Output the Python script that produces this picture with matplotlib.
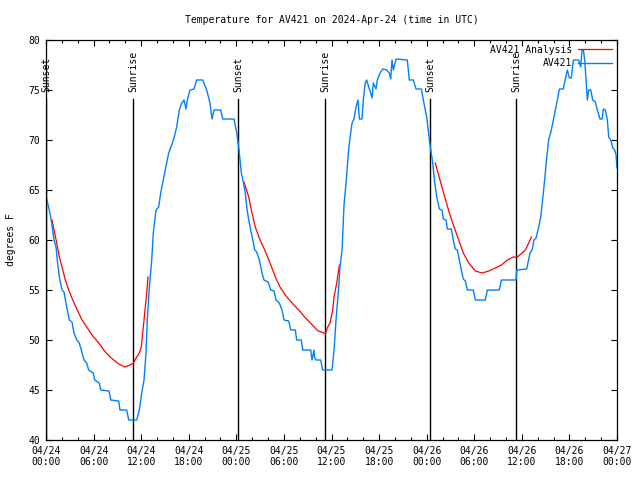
import numpy as np
import matplotlib
matplotlib.use('Agg')
from matplotlib import rcParams
rcParams['font.family'] = 'DejaVu Sans Mono'
rcParams['font.size'] = 7
import matplotlib.pyplot as plt
from matplotlib.ticker import MultipleLocator

# hours since 2024-04-24 00:00 UTC, observed temperature (F)
obs_hours = [0.0, 0.50, 0.72, 1.01, 1.26, 1.42, 1.68, 2.02, 2.27, 2.61, 2.94, 3.28, 3.53, 3.87,
             4.20, 4.45, 4.79, 5.13, 5.38, 5.96, 6.14, 6.72, 6.90, 7.94, 8.16, 9.17, 9.33, 10.18,
             10.43, 11.44, 11.77, 12.07, 12.36, 12.61, 12.77, 13.03, 13.33, 13.53, 13.87, 14.21,
             14.46, 14.79, 15.13, 15.47, 15.85, 16.14, 16.48, 16.81, 17.11, 17.40, 17.65, 17.82,
             18.16, 18.66, 19.00, 19.76, 20.26, 20.68, 20.93, 21.19, 22.03, 22.28, 23.71, 24.05,
             24.30, 24.46, 24.63, 24.88, 25.13, 25.31, 25.56, 25.81, 26.07, 26.32, 26.57, 26.90,
             27.24, 27.49, 28.00, 28.34, 28.75, 29.00, 29.42, 29.76, 30.01, 30.61, 30.86, 31.44,
             31.61, 32.19, 32.37, 33.38, 33.54, 33.80, 33.88, 34.05, 34.64, 34.80, 34.90, 36.07,
             36.32, 36.57, 36.91, 37.07, 37.33, 37.58, 37.92, 38.08, 38.25, 38.59, 38.84, 39.09,
             39.34, 39.51, 39.85, 40.01, 40.26, 40.44, 40.69, 40.95, 41.11, 41.27, 41.61, 41.78,
             42.12, 42.46, 42.96, 43.29, 43.47, 43.63, 43.80, 44.14, 45.56, 45.81, 46.32, 46.66,
             47.33, 47.58, 48.01, 48.34, 48.76, 49.02, 49.27, 49.60, 49.94, 50.10, 50.44, 50.61,
             51.11, 51.36, 51.61, 51.87, 52.12, 52.37, 52.62, 52.88, 53.13, 53.88, 54.14, 55.40,
             55.65, 57.16, 57.42, 59.27, 59.36, 60.62, 61.03, 61.29, 61.54, 61.79, 62.13, 62.38,
             62.71, 62.96, 63.14, 63.39, 63.72, 63.97, 64.22, 64.48, 64.73, 65.23, 65.48, 65.74,
             65.99, 66.24, 66.49, 67.17, 67.42, 67.59, 67.76, 67.93, 68.10, 68.26, 68.44, 68.69,
             68.94, 69.27, 69.52, 69.86, 70.11, 70.28, 70.53, 70.78, 70.96, 71.21, 71.46, 71.72,
             71.88, 72.0]
obs_temp = [64.4, 62.7, 61.7, 60.0, 59.3, 58.0, 56.3, 55.0, 54.8, 53.3, 52.0, 51.8, 50.7, 50.0,
            49.7, 49.0, 48.0, 47.7, 47.0, 46.7, 46.0, 45.7, 45.0, 44.9, 44.0, 43.9, 43.0, 43.0,
            42.0, 42.0, 43.0, 44.7, 46.0, 48.7, 52.0, 55.3, 58.0, 60.7, 63.0, 63.3,
            64.7, 66.0, 67.3, 68.7, 69.5, 70.2, 71.3, 73.0, 73.7, 74.0, 73.1, 74.0,
            75.0, 75.1, 76.0, 76.0, 75.0, 73.7, 72.1, 73.0, 73.0, 72.1, 72.1, 70.7,
            69.3, 68.0, 66.7, 65.8, 64.7, 63.3, 62.0, 61.0, 60.0, 59.0, 58.8, 58.0,
            56.7, 56.0, 55.8, 55.0, 54.9, 54.0, 53.7, 53.0, 52.0, 51.9, 51.0, 51.0,
            50.0, 50.0, 49.0, 49.0, 48.0, 49.0, 48.2, 48.0, 48.0, 47.3, 47.0, 47.0,
            49.0, 52.0, 55.3, 57.3, 59.0, 63.5, 66.5, 68.3, 69.7, 71.7, 72.1, 73.3,
            74.0, 72.1, 72.1, 74.0, 75.7, 76.0, 75.3, 74.7, 74.2, 75.7, 75.1, 76.0,
            76.7, 77.1, 77.0, 76.7, 76.1, 78.0, 77.0, 78.1, 78.0, 76.0, 76.0, 75.1,
            75.1, 74.0, 72.3, 70.0, 67.7, 65.7, 64.3, 63.1, 63.0, 62.1, 62.0, 61.1,
            61.1, 60.0, 59.1, 59.0, 58.0, 57.0, 56.1, 55.9, 55.0, 55.0, 54.0, 54.0,
            55.0, 55.0, 56.0, 56.0, 57.0, 57.1, 58.7, 59.0, 60.0, 60.2, 61.3, 62.3,
            64.7, 66.7, 68.3, 70.0, 71.0, 72.0, 73.0, 74.0, 75.1, 75.1, 76.1, 77.0,
            76.2, 76.2, 78.0, 78.0, 77.3, 79.0, 79.0, 78.0, 76.0, 74.0, 75.0, 75.0,
            74.0, 73.8, 73.0, 72.1, 72.1, 73.1, 73.0, 72.0, 70.3, 70.0, 69.2, 69.0,
            68.5, 67.2]

# analysis runs (one per night)
ana1_hours = [0.76, 1.01, 1.35, 1.68, 2.02, 2.43, 2.86, 3.37, 3.95, 4.54, 5.13, 5.80, 6.65,
              7.48, 8.23, 9.17, 9.92, 10.59, 11.01, 11.44, 11.77, 12.02, 12.19, 12.36, 12.52,
              12.70, 12.86]
ana1_temp = [62.0, 61.0, 59.7, 58.3, 57.3, 56.0, 55.0, 54.0, 53.0, 52.0, 51.3, 50.5, 49.7,
             48.8, 48.2, 47.6, 47.3, 47.5, 47.7, 48.3, 48.7, 49.3, 50.7, 52.0, 53.3, 54.7, 56.3]
ana2_hours = [24.97, 25.56, 25.89, 26.39, 26.99, 27.58, 28.25, 28.92, 29.51, 30.18, 31.02,
              31.87, 32.62, 33.46, 34.30, 35.06, 35.22, 35.47, 35.81, 36.15, 36.32, 36.66, 36.99]
ana2_temp = [65.8, 64.3, 63.0, 61.3, 60.0, 59.0, 57.7, 56.3, 55.3, 54.5, 53.7, 53.0, 52.3,
             51.6, 50.9, 50.7, 50.6, 51.2, 51.7, 53.0, 54.3, 55.7, 57.5]
ana3_hours = [49.09, 49.68, 50.28, 50.86, 51.45, 52.04, 52.62, 53.30, 54.14, 54.98, 55.83,
              56.66, 57.42, 58.17, 58.93, 59.43, 60.03, 60.44, 60.87, 61.20]
ana3_temp = [67.7, 66.0, 64.3, 62.7, 61.3, 60.0, 58.7, 57.7, 56.9, 56.7, 56.9, 57.2, 57.5,
             58.0, 58.3, 58.3, 58.7, 59.0, 59.7, 60.3]

sun_hours = [0.05, 10.97, 24.21, 35.18, 48.42, 59.27]
sun_labels = ['Sunset', 'Sunrise', 'Sunset', 'Sunrise', 'Sunset', 'Sunrise']

tick_hours = list(range(0, 73, 6))
tick_labels = ['04/24\n00:00', '04/24\n06:00', '04/24\n12:00', '04/24\n18:00',
               '04/25\n00:00', '04/25\n06:00', '04/25\n12:00', '04/25\n18:00',
               '04/26\n00:00', '04/26\n06:00', '04/26\n12:00', '04/26\n18:00',
               '04/27\n00:00']

fig = plt.figure(figsize=(6.4, 4.8), dpi=100)
ax = fig.add_axes([46/640, 40/480, 571/640, 400/480])

for h, lab in zip(sun_hours, sun_labels):
    ax.plot([h, h], [40, 74.1], color='black', lw=1.0)
    ax.text(h, 74.8, lab, rotation=90, ha='center', va='bottom', fontsize=7)

ana_style = dict(color='#ff0000', lw=0.9)
ax.plot(ana1_hours, ana1_temp, label='AV421 Analysis', **ana_style)
ax.plot(ana2_hours, ana2_temp, **ana_style)
ax.plot(ana3_hours, ana3_temp, **ana_style)
ax.plot(obs_hours, obs_temp, color='#0080ff', lw=1.0, label='AV421')

ax.set_xlim(0, 72)
ax.set_ylim(40, 80)
ax.set_xticks(tick_hours)
ax.set_xticklabels(tick_labels)
ax.xaxis.set_minor_locator(MultipleLocator(2))
ax.set_yticks(range(40, 81, 5))
ax.tick_params(which='both', direction='in', top=True, right=True, labelsize=7, width=0.8)
ax.tick_params(which='major', length=4.5, pad=4)
ax.tick_params(which='minor', length=2.3)
for s in ax.spines.values():
    s.set_linewidth(0.9)

ax.set_ylabel('degrees F', fontsize=7, labelpad=9)
ax.set_title('Temperature for AV421 on 2024-Apr-24 (time in UTC)', fontsize=7, pad=12)

ax.legend(loc='upper right', frameon=False, markerfirst=False, fontsize=7,
          handlelength=3.5, handletextpad=0.6, borderaxespad=0.3, labelspacing=0.35,
          borderpad=0.2)

fig.savefig('out.png', dpi=100)
